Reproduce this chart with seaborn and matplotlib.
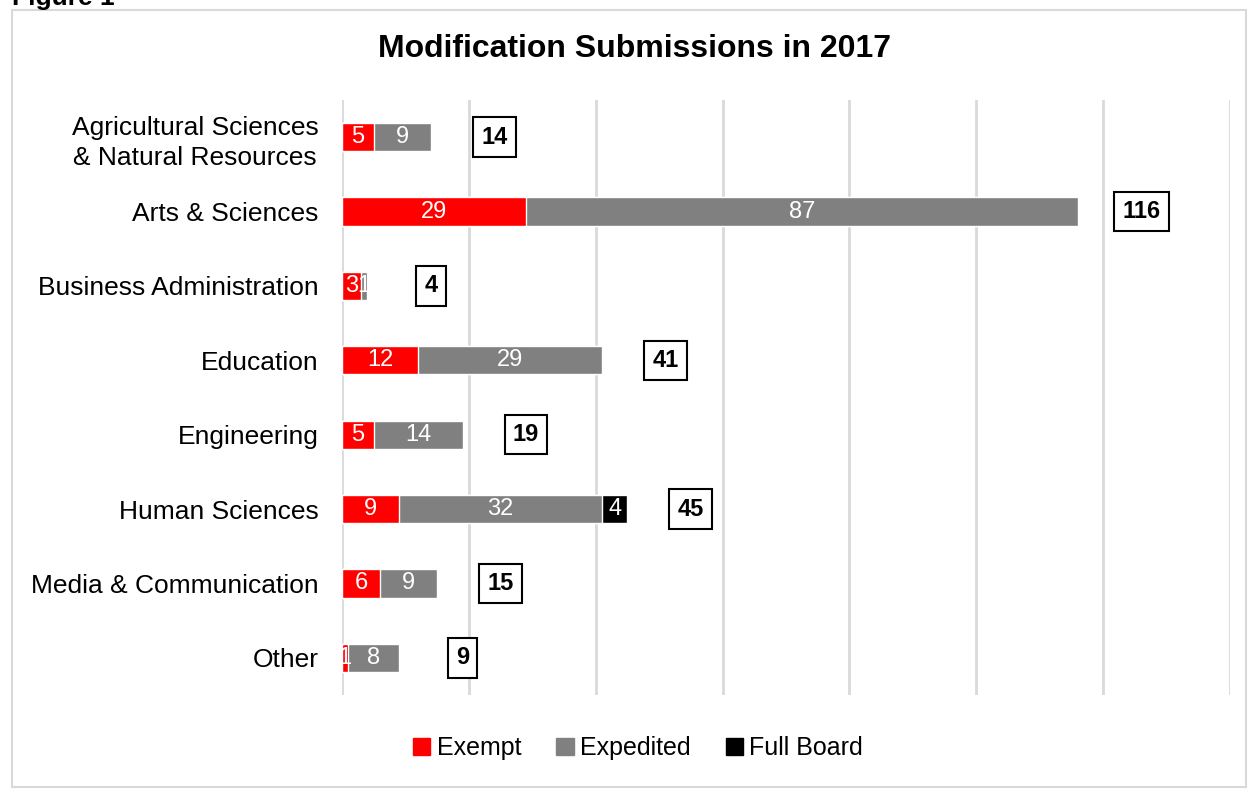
#!/usr/bin/env python3
"""Stacked horizontal bars: modification submissions per college in 2017."""

import matplotlib

matplotlib.use("Agg")
import matplotlib.pyplot as plt
from matplotlib.patches import Patch, Rectangle
import pandas as pd
import seaborn as sns

categories = [
    "Agricultural Sciences\n& Natural Resources",
    "Arts & Sciences",
    "Business Administration",
    "Education",
    "Engineering",
    "Human Sciences",
    "Media & Communication",
    "Other",
]
exempt = [5, 29, 3, 12, 5, 9, 6, 1]
expedited = [9, 87, 1, 29, 14, 32, 9, 8]
full_board = [0, 0, 0, 0, 0, 4, 0, 0]
series_names = ["Exempt", "Expedited", "Full Board"]
series_colors = ["#ff0000", "#808080", "#000000"]

title = "Modification Submissions in 2017"

sns.set_theme(style="white")
plt.rcParams["font.family"] = ["Liberation Sans", "DejaVu Sans"]
plt.rcParams["text.color"] = "black"
plt.rcParams["ytick.color"] = "black"

df = pd.DataFrame(
    {"category": categories, "Exempt": exempt, "Expedited": expedited, "Full Board": full_board}
)
df["cum1"] = df["Exempt"]
df["cum2"] = df["cum1"] + df["Expedited"]
df["cum3"] = df["cum2"] + df["Full Board"]

fig = plt.figure(figsize=(12.56, 7.92), dpi=100)
ax = fig.add_axes([342 / 1256, 1 - 695 / 792, 888 / 1256, 595 / 792])

# draw cumulative totals back to front so they read as stacked segments
for col, color in zip(["cum3", "cum2", "cum1"], series_colors[::-1]):
    sns.barplot(data=df, y="category", x=col, orient="h", color=color,
                width=0.38, ax=ax, saturation=1, zorder=3)

ax.set_xlim(0, 140)
ax.set_ylim(7.5, -0.5)
ax.set_xticks(range(0, 141, 20))
ax.set_xticklabels([])
ax.grid(axis="x", color="#d9d9d9", linewidth=2, zorder=0)
ax.grid(axis="y", visible=False)
for s in ax.spines.values():
    s.set_visible(False)
ax.set_xlabel("")
ax.set_ylabel("")
ax.tick_params(axis="y", length=0, pad=17, labelsize=19, labelcolor="black")
for lbl in ax.get_yticklabels():
    lbl.set_multialignment("center")
    lbl.set_linespacing(1.35)

# segment labels
for i, row in df.iterrows():
    starts = [0, row["cum1"], row["cum2"]]
    for start, name in zip(starts, series_names):
        val = row[name]
        if val > 0:
            ax.text(start + val / 2, i, str(val), color="white", ha="center",
                    va="center", fontsize=17, zorder=5)
    ax.text(row["cum3"] + 10, i, str(row["cum3"]), color="black", ha="center",
            va="center", fontsize=17, fontweight="bold", zorder=5,
            bbox=dict(boxstyle="square,pad=0.35", facecolor="white",
                      edgecolor="black", linewidth=1.5))

fig.text(634 / 1256, 1 - 49 / 792, title, ha="center", va="center",
         fontsize=23, fontweight="bold")
fig.text(12 / 1256, 1 - 5 / 792, "Figure 1", ha="left", va="baseline",
         fontsize=19, fontweight="bold")

handles = [Patch(facecolor=c, edgecolor=c) for c in series_colors]
fig.legend(handles, series_names, loc="center", ncol=3,
           bbox_to_anchor=(638 / 1256, 1 - 748 / 792), frameon=False,
           fontsize=18, handlelength=0.7, handleheight=0.7,
           handletextpad=0.25, columnspacing=1.4)

fig.patches.append(Rectangle((12 / 1256, 1 - 787 / 792), 1234 / 1256, 777 / 792,
                             transform=fig.transFigure, fill=False,
                             edgecolor="#d9d9d9", linewidth=1.5))

fig.savefig("out.png", dpi=100)
